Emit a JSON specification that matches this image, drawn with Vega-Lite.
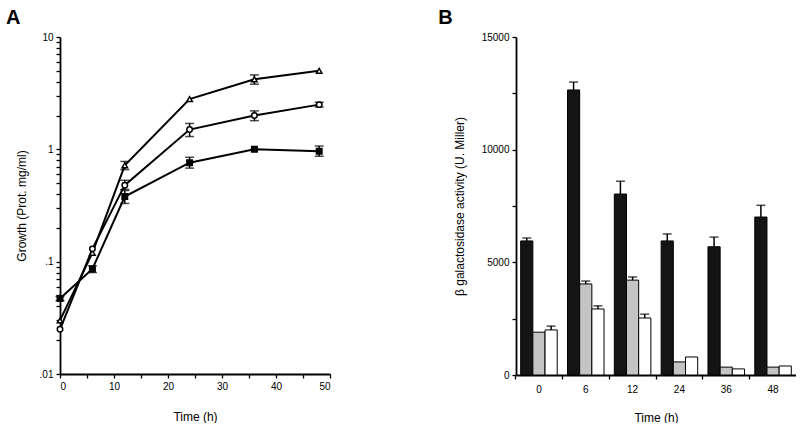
{
  "$schema": "https://vega.github.io/schema/vega-lite/v6.json",
  "padding": {"left": 6, "top": 8, "right": 0, "bottom": 0},
  "background": "white",
  "config": {
    "font": "Liberation Sans",
    "view": {"stroke": null},
    "axis": {
      "grid": false,
      "domainColor": "black",
      "domainWidth": 1.8,
      "tickColor": "black",
      "tickWidth": 1.3,
      "tickSize": 4,
      "labelColor": "black",
      "titleColor": "black",
      "labelFontSize": 10,
      "titleFontSize": 12,
      "titleFontWeight": "normal",
      "labelPadding": 3
    },
    "title": {"fontSize": 20, "fontWeight": "bold", "anchor": "start", "frame": "bounds", "color": "black"}
  },
  "spacing": 107,
  "resolve": {"scale": {"fill": "independent", "shape": "independent", "y": "independent", "x": "independent"}},
  "datasets": {
    "growth": [
      {"t": 0, "v": 0.030, "lo": null, "hi": null, "s": "triangle"},
      {"t": 6, "v": 0.12, "lo": null, "hi": null, "s": "triangle"},
      {"t": 12, "v": 0.72, "lo": 0.66, "hi": 0.78, "s": "triangle"},
      {"t": 24, "v": 2.8, "lo": null, "hi": null, "s": "triangle"},
      {"t": 36, "v": 4.2, "lo": 3.8, "hi": 4.6, "s": "triangle"},
      {"t": 48, "v": 5.0, "lo": null, "hi": null, "s": "triangle"},
      {"t": 0, "v": 0.025, "lo": null, "hi": null, "s": "circle"},
      {"t": 6, "v": 0.13, "lo": null, "hi": null, "s": "circle"},
      {"t": 12, "v": 0.48, "lo": 0.44, "hi": 0.53, "s": "circle"},
      {"t": 24, "v": 1.5, "lo": 1.3, "hi": 1.7, "s": "circle"},
      {"t": 36, "v": 2.0, "lo": 1.8, "hi": 2.2, "s": "circle"},
      {"t": 48, "v": 2.5, "lo": 2.38, "hi": 2.62, "s": "circle"},
      {"t": 0, "v": 0.047, "lo": 0.045, "hi": 0.049, "s": "filled"},
      {"t": 6, "v": 0.086, "lo": 0.08, "hi": 0.092, "s": "filled"},
      {"t": 12, "v": 0.38, "lo": 0.33, "hi": 0.43, "s": "filled"},
      {"t": 24, "v": 0.76, "lo": 0.68, "hi": 0.85, "s": "filled"},
      {"t": 36, "v": 1.0, "lo": null, "hi": null, "s": "filled"},
      {"t": 48, "v": 0.96, "lo": 0.87, "hi": 1.07, "s": "filled"}
    ],
    "activity": [
      {"time": "0", "strain": "a", "value": 5950, "upper": 6080},
      {"time": "0", "strain": "b", "value": 1900, "upper": 1900},
      {"time": "0", "strain": "c", "value": 2000, "upper": 2170},
      {"time": "6", "strain": "a", "value": 12650, "upper": 13000},
      {"time": "6", "strain": "b", "value": 4040, "upper": 4170},
      {"time": "6", "strain": "c", "value": 2930, "upper": 3070},
      {"time": "12", "strain": "a", "value": 8030, "upper": 8600},
      {"time": "12", "strain": "b", "value": 4210, "upper": 4350},
      {"time": "12", "strain": "c", "value": 2530, "upper": 2700},
      {"time": "24", "strain": "a", "value": 5950, "upper": 6260},
      {"time": "24", "strain": "b", "value": 580, "upper": 580},
      {"time": "24", "strain": "c", "value": 800, "upper": 800},
      {"time": "36", "strain": "a", "value": 5690, "upper": 6120},
      {"time": "36", "strain": "b", "value": 350, "upper": 350},
      {"time": "36", "strain": "c", "value": 270, "upper": 270},
      {"time": "48", "strain": "a", "value": 7010, "upper": 7530},
      {"time": "48", "strain": "b", "value": 350, "upper": 350},
      {"time": "48", "strain": "c", "value": 400, "upper": 400}
    ]
  },
  "hconcat": [
    {
      "title": {"text": "A", "dx": -9},
      "width": 270,
      "height": 337,
      "data": {"name": "growth"},
      "encoding": {
        "x": {
          "field": "t", "type": "quantitative",
          "scale": {"domain": [0, 50], "nice": false},
          "axis": {
            "title": "Time (h)", "titlePadding": 20,
            "values": [0, 5, 10, 15, 20, 25, 30, 35, 40, 45, 50],
            "labelExpr": "datum.value % 10 == 0 ? datum.label : ''"
          }
        }
      },
      "layer": [
        {
          "mark": {"type": "line", "color": "black", "strokeWidth": 2},
          "encoding": {
            "y": {
              "field": "v", "type": "quantitative",
              "scale": {"type": "log", "domain": [0.01, 10], "nice": false},
              "axis": {
                "title": "Growth (Prot. mg/ml)", "titlePadding": 11,
                "values": [0.01, 0.02, 0.03, 0.04, 0.05, 0.06, 0.07, 0.08, 0.09, 0.1, 0.2, 0.3, 0.4, 0.5, 0.6, 0.7, 0.8, 0.9, 1, 2, 3, 4, 5, 6, 7, 8, 9, 10],
                "labelExpr": "datum.value == 0.01 ? '.01' : datum.value == 0.1 ? '.1' : datum.value == 1 ? '1' : datum.value == 10 ? '10' : ''"
              }
            },
            "detail": {"field": "s"}
          }
        },
        {
          "transform": [{"filter": "datum.lo != null"}],
          "mark": {"type": "rule", "color": "black", "strokeWidth": 1.5},
          "encoding": {
            "y": {"field": "lo", "type": "quantitative"},
            "y2": {"field": "hi"}
          }
        },
        {
          "transform": [{"filter": "datum.lo != null"}, {"fold": ["lo", "hi"], "as": ["k", "bound"]}],
          "mark": {"type": "tick", "orient": "horizontal", "color": "black", "size": 9, "thickness": 1.5},
          "encoding": {
            "y": {"field": "bound", "type": "quantitative"}
          }
        },
        {
          "mark": {"type": "point", "filled": false, "strokeWidth": 1.5, "size": 30, "opacity": 1},
          "encoding": {
            "y": {"field": "v", "type": "quantitative"},
            "shape": {
              "field": "s", "type": "nominal", "legend": null,
              "scale": {"domain": ["triangle", "circle", "filled"], "range": ["triangle-up", "circle", "square"]}
            },
            "fill": {
              "field": "s", "type": "nominal", "legend": null,
              "scale": {"domain": ["triangle", "circle", "filled"], "range": ["white", "white", "black"]}
            },
            "stroke": {"value": "black"}
          }
        }
      ]
    },
    {
      "title": {"text": "B", "dx": -15},
      "width": 280,
      "height": 338,
      "data": {"name": "activity"},
      "encoding": {
        "x": {
          "field": "time", "type": "ordinal",
          "sort": ["0", "6", "12", "24", "36", "48"],
          "scale": {"paddingInner": 0.22, "paddingOuter": 0.1},
          "axis": {"title": "Time (h)", "labelAngle": 0, "titlePadding": 18, "labelPadding": 5, "bandPosition": -0.14}
        },
        "xOffset": {"field": "strain", "type": "nominal", "sort": ["a", "b", "c"]}
      },
      "layer": [
        {
          "mark": {"type": "bar", "stroke": "black", "strokeWidth": 1},
          "encoding": {
            "y": {
              "field": "value", "type": "quantitative",
              "scale": {"domain": [0, 15000], "nice": false},
              "axis": {
                "title": "β galactosidase activity (U. Miller)", "titlePadding": 15,
                "values": [0, 2500, 5000, 7500, 10000, 12500, 15000],
                "labelExpr": "datum.value % 5000 == 0 ? datum.value + '' : ''"
              }
            },
            "fill": {
              "field": "strain", "type": "nominal", "legend": null,
              "scale": {"domain": ["a", "b", "c"], "range": ["#141414", "#c4c4c4", "white"]}
            }
          }
        },
        {
          "mark": {"type": "rule", "color": "black", "strokeWidth": 1.5},
          "encoding": {
            "y": {"field": "value", "type": "quantitative"},
            "y2": {"field": "upper"}
          }
        },
        {
          "transform": [{"filter": "datum.upper > datum.value"}],
          "mark": {"type": "tick", "orient": "horizontal", "color": "black", "size": 9, "thickness": 1.5},
          "encoding": {
            "y": {"field": "upper", "type": "quantitative"}
          }
        }
      ]
    }
  ]
}
